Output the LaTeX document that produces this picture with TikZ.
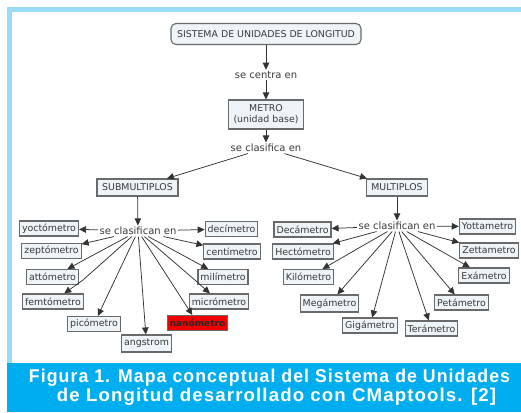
\documentclass[tikz,border=0pt]{standalone}
\usepackage{fontspec}
\setmainfont{DejaVu Sans}
\newfontfamily\capfont[LetterSpace=6]{Liberation Sans}
\usetikzlibrary{arrows.meta,calc}
\definecolor{framebl}{HTML}{9ADCF7}
\definecolor{capbl}{HTML}{00AEEF}
\definecolor{boxfill}{HTML}{EEF4F7}
\definecolor{boxline}{HTML}{6A6A6A}
\definecolor{txt}{HTML}{3A3A3A}
\definecolor{nanored}{HTML}{F00000}
\begin{document}
\begin{tikzpicture}[x=1pt,y=-1pt,
  concept/.style={draw=boxline, line width=1.1pt, fill=boxfill, text=txt,
    font=\fontsize{9.4}{11}\selectfont, inner xsep=2.5pt, inner ysep=1.5pt,
    minimum height=15pt},
  linkw/.style={text=txt, font=\fontsize{10}{12}\selectfont, inner sep=1.5pt},
  arr/.style={draw=black!80, line width=0.75pt, -{Triangle[length=7pt,width=6.5pt]}},
  capt/.style={text=white, font=\capfont\bfseries\fontsize{18.5}{20}\selectfont, inner sep=0pt}]

\useasboundingbox (0,0) rectangle (521,412);
\fill[white] (0,0) rectangle (521,412);
\fill[framebl] (7,7) rectangle (521,12);
\fill[framebl] (7,7) rectangle (12,363);
\fill[capbl] (7,363) rectangle (521,412);

% caption
\node[capt, anchor=base] (cap1) at (269.5,382) {\resizebox{481pt}{\height}{Figura 1. Mapa conceptual del Sistema de Unidades}};
\node[capt, anchor=base] (cap2) at (276.5,401) {\resizebox{439pt}{\height}{de Longitud desarrollado con CMaptools. [2]}};

% top
\node[concept, rounded corners=5pt, minimum width=190pt, minimum height=21pt] (sis) at (266,34) {SISTEMA DE UNIDADES DE LONGITUD};
\node[linkw] (cen) at (266,75) {se centra en};
\node[concept, minimum width=75pt, minimum height=29pt, align=center] (metro) at (266,114.5) {METRO\\(unidad base)};
\node[linkw] (cla) at (266,148) {se clasifica en};
\node[concept, minimum width=81pt, minimum height=17pt] (sub) at (137.5,187.5) {SUBMULTIPLOS};
\node[concept, minimum width=61pt, minimum height=17pt] (mul) at (397,187.5) {MULTIPLOS};

\draw[arr] (sis) -- (cen);
\draw[arr] (cen) -- (metro);
\draw[arr] (metro) -- (cla);
\draw[arr] (cla) -- (sub);
\draw[arr] (cla) -- (mul);

% submultiples
\node[linkw] (lblL) at (138,231) {se clasifican en};
\node[concept] (yocto) at (49,228.5) {yoctómetro};
\node[concept] (zepto) at (51.5,251) {zeptómetro};
\node[concept] (atto) at (52.5,277) {attómetro};
\node[concept] (femto) at (53,301.5) {femtómetro};
\node[concept] (pico) at (94,324) {picómetro};
\node[concept, minimum height=17pt] (ang) at (146.5,343.5) {angstrom};
\node[concept, fill=nanored, text=black!85, font=\fontsize{9}{11}\selectfont\bfseries] (nano) at (197.5,323) {nanómetro};
\node[concept] (micro) at (219,301.5) {micrómetro};
\node[concept] (mili) at (223,277) {milímetro};
\node[concept] (centi) at (232,251.5) {centímetro};
\node[concept] (deci) at (231.5,229) {decímetro};
\coordinate (bendF) at (83,280);
\coordinate (bendM) at (196,281);

\draw[arr] (sub) -- (lblL);
\draw[arr] (lblL) -- (yocto);
\draw[arr] (lblL) -- (zepto);
\draw[arr] (lblL) -- (atto);
\draw[arr] (lblL) -- (bendF) -- (femto);
\draw[arr] (lblL) -- (pico);
\draw[arr] (lblL) -- (ang);
\draw[arr] (lblL) -- (nano);
\draw[arr] (lblL) -- (bendM) -- (micro);
\draw[arr] (lblL) -- (mili);
\draw[arr] (lblL) -- (centi);
\draw[arr] (lblL) -- (deci);

% multiples
\node[linkw] (lblR) at (397,226) {se clasifican en};
\node[concept] (deca) at (302.5,229.5) {Decámetro};
\node[concept] (hecto) at (303,251.5) {Hectómetro};
\node[concept] (kilo) at (308.5,277) {Kilómetro};
\node[concept, minimum height=17pt] (mega) at (329.5,303.5) {Megámetro};
\node[concept] (giga) at (370,325.5) {Gigámetro};
\node[concept] (tera) at (431.5,328.5) {Terámetro};
\node[concept] (peta) at (461.5,302.5) {Petámetro};
\node[concept] (exa) at (484,275.5) {Exámetro};
\node[concept] (zetta) at (489,250.5) {Zettametro};
\node[concept] (yotta) at (487.5,226.5) {Yottametro};

\draw[arr] (mul) -- (lblR);
\draw[arr] (lblR) -- (deca);
\draw[arr] (lblR) -- (hecto);
\draw[arr] (lblR) -- (kilo);
\draw[arr] (lblR) -- (mega);
\draw[arr] (lblR) -- (giga);
\draw[arr] (lblR) -- (tera);
\draw[arr] (lblR) -- (peta);
\draw[arr] (lblR) -- (exa);
\draw[arr] (lblR) -- (zetta);
\draw[arr] (lblR) -- (yotta);
\end{tikzpicture}
\end{document}
